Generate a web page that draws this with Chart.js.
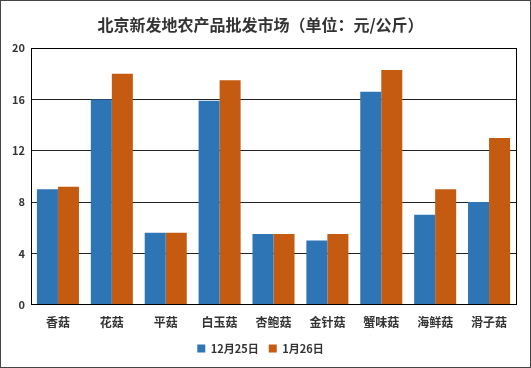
<!DOCTYPE html>
<html>
<head>
<meta charset="utf-8">
<script src="https://cdn.jsdelivr.net/npm/chart.js@4.4.0/dist/chart.umd.min.js"></script>
<style>
  html, body { margin: 0; padding: 0; background: #fff; }
  #wrap { width: 531px; height: 368px; box-sizing: border-box; border: 1px solid #444; position: relative; }
</style>
</head>
<body>
<div id="wrap"><canvas id="myChart"></canvas></div>
<script>
const categories = ["香菇", "花菇", "平菇", "白玉菇", "杏鲍菇", "金针菇", "蟹味菇", "海鲜菇", "滑子菇"];
const dec25 = [9.0, 16.0, 5.6, 15.9, 5.5, 5.0, 16.6, 7.0, 8.0];
const jan26 = [9.2, 18.0, 5.6, 17.5, 5.5, 5.5, 18.3, 9.0, 13.0];
const yTicks = [0, 4, 8, 12, 16, 20];

const fontFamily = "'Noto Sans CJK SC', 'DejaVu Sans', sans-serif";
const textColor = "#333";

// black frame around the plot area
const plotFrame = {
  id: "plotFrame",
  afterDraw(chart) {
    const { ctx, chartArea: a } = chart;
    ctx.save();
    ctx.strokeStyle = "#000";
    ctx.lineWidth = 1;
    ctx.strokeRect(Math.round(a.left) + 0.5, Math.round(a.top) + 0.5, Math.round(a.width), Math.round(a.height));
    ctx.restore();
  },
};

Chart.defaults.font.family = fontFamily;
Chart.defaults.color = textColor;

const chart = new Chart(document.getElementById("myChart"), {
  type: "bar",
  plugins: [plotFrame],
  data: {
    labels: categories,
    datasets: [
      { label: "12月25日", data: dec25, backgroundColor: "#2E75B6" },
      { label: "1月26日", data: jan26, backgroundColor: "#C55A11" },
    ],
  },
  options: {
    responsive: true,
    maintainAspectRatio: false,
    animation: false,
    layout: { padding: { left: 4, right: 14, top: 6, bottom: 3 } },
    datasets: {
      bar: { barPercentage: 1, categoryPercentage: 0.78 },
    },
    scales: {
      x: {
        grid: { display: false },
        border: { display: true, color: "#000" },
        ticks: { font: { size: 12, weight: "bold" }, color: textColor, padding: 3 },
      },
      y: {
        min: 0,
        max: 20,
        afterBuildTicks: (axis) => { axis.ticks = yTicks.map((v) => ({ value: v })); },
        afterFit: (axis) => { axis.width = 26; },
        grid: { color: "#222", drawTicks: false },
        border: { display: true, color: "#000" },
        ticks: { font: { size: 11, weight: "bold" }, color: textColor, padding: 6 },
      },
    },
    plugins: {
      title: {
        display: true,
        text: "北京新发地农产品批发市场（单位：元/公斤）",
        color: textColor,
        font: { size: 16, weight: "bold" },
        padding: { top: 8, bottom: 14 },
      },
      legend: {
        position: "bottom",
        labels: {
          boxWidth: 8,
          boxHeight: 8,
          padding: 10,
          color: textColor,
          font: { size: 11, weight: "bold" },
        },
      },
      tooltip: { enabled: false },
    },
  },
});
</script>
</body>
</html>
